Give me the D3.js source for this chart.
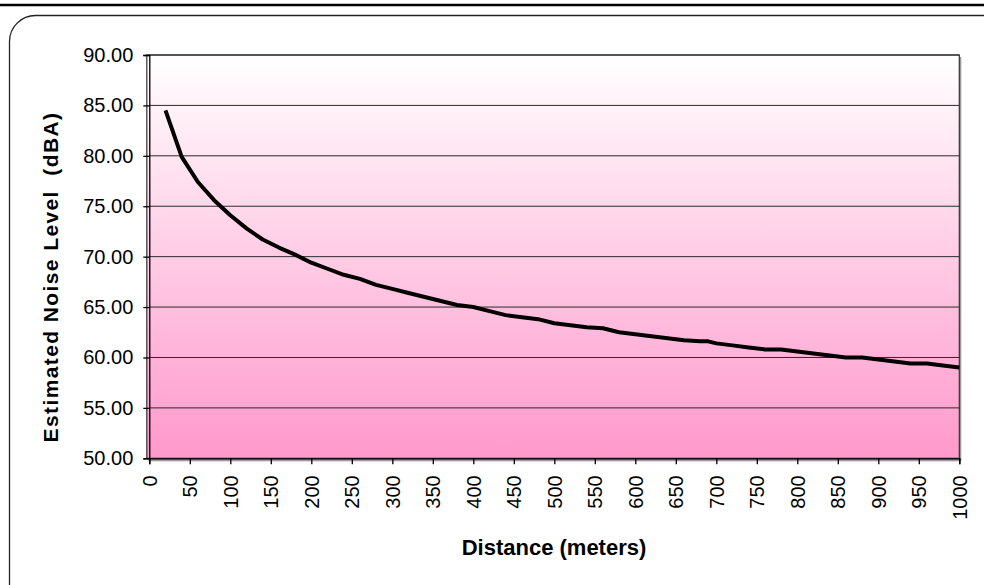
<!DOCTYPE html>
<html>
<head>
<meta charset="utf-8">
<script src="https://cdn.jsdelivr.net/npm/d3@7"></script>
<style>
  body { margin: 0; background: #fff; }
  text { font-family: "Liberation Sans", Arial, sans-serif; fill: #000; }
</style>
</head>
<body>
<div id="chart"></div>
<script>
// distances (m) and noise level
var distances = [20, 40, 60, 80, 100, 120, 140, 160, 180, 200,
                 220, 240, 260, 280, 300, 320, 340, 360, 380, 400,
                 420, 440, 460, 480, 500, 520, 540, 560, 580, 600,
                 620, 640, 660, 680, 690, 700, 720, 740, 760, 780,
                 800, 820, 840, 860, 880, 900, 920, 940, 960, 980, 1000];
var noise = [84.5, 79.9, 77.4, 75.6, 74.1, 72.8, 71.7, 70.9, 70.2, 69.4,
             68.8, 68.2, 67.8, 67.2, 66.8, 66.4, 66.0, 65.6, 65.2, 65.0,
             64.6, 64.2, 64.0, 63.8, 63.4, 63.2, 63.0, 62.9, 62.5, 62.3,
             62.1, 61.9, 61.7, 61.6, 61.6, 61.4, 61.2, 61.0, 60.8, 60.8,
             60.6, 60.4, 60.2, 60.0, 60.0, 59.8, 59.6, 59.4, 59.4, 59.2, 59.0];
var xTicks = d3.range(0, 1001, 50);
var yTicks = [50, 55, 60, 65, 70, 75, 80, 85, 90];

var W = 984, H = 585;
var plotL = 149.3, plotR = 959.3, plotT = 55, plotB = 458.3;

var svg = d3.select("#chart").append("svg")
    .attr("width", W)
    .attr("height", H);

var x = d3.scaleLinear().domain([0, 1000]).range([plotL, plotR]);
var y = d3.scaleLinear().domain([50, 90]).range([plotB, plotT]);

// frame
svg.append("line")
    .attr("x1", 0).attr("x2", W)
    .attr("y1", 5).attr("y2", 5)
    .attr("stroke", "#000").attr("stroke-width", 2.5);
svg.append("rect")
    .attr("x", 9.5).attr("y", 15.5)
    .attr("width", 1010).attr("height", 600)
    .attr("rx", 26).attr("ry", 26)
    .attr("fill", "none")
    .attr("stroke", "#222").attr("stroke-width", 1.3);

// plot area gradient
var grad = svg.append("defs").append("linearGradient")
    .attr("id", "bg").attr("x1", 0).attr("y1", 0).attr("x2", 0).attr("y2", 1);
grad.append("stop").attr("offset", "0%").attr("stop-color", "#ffffff");
grad.append("stop").attr("offset", "100%").attr("stop-color", "#ff99cc");

// shadow
svg.append("rect")
    .attr("x", plotL - 1).attr("y", plotT + 2)
    .attr("width", plotR - plotL + 3).attr("height", plotB - plotT + 1)
    .attr("fill", "#9a9a9a");
svg.append("rect")
    .attr("x", plotL - 2.5).attr("y", plotT)
    .attr("width", plotR - plotL + 2.5).attr("height", plotB - plotT)
    .attr("fill", "url(#bg)")
    .attr("stroke", "#333").attr("stroke-width", 1.2);

// gridlines
svg.append("g").selectAll("line")
    .data(yTicks.filter(function(d) { return d > 50; }))
    .enter().append("line")
    .attr("x1", plotL).attr("x2", plotR)
    .attr("y1", function(d) { return y(d); })
    .attr("y2", function(d) { return y(d); })
    .attr("stroke", "#2a2a2a").attr("stroke-width", 1);

// axes
var yAxis = svg.append("g")
    .attr("transform", "translate(" + plotL + ",0)")
    .call(d3.axisLeft(y).tickValues(yTicks).tickSize(6).tickPadding(10)
        .tickFormat(d3.format(".2f")));
yAxis.selectAll("text").style("font-size", "20px")
    .attr("font-family", "Liberation Sans, Arial, sans-serif");
yAxis.selectAll("line, path").attr("stroke", "#000").attr("stroke-width", 1.3);

var xAxis = svg.append("g")
    .attr("transform", "translate(0," + plotB + ")")
    .call(d3.axisBottom(x).tickValues(xTicks).tickSize(6).tickFormat(d3.format("d")));
xAxis.selectAll("line, path").attr("stroke", "#000").attr("stroke-width", 1.3);
xAxis.selectAll("text")
    .style("font-size", "20px")
    .attr("font-family", "Liberation Sans, Arial, sans-serif")
    .attr("text-anchor", "end")
    .attr("transform", "rotate(-90)")
    .attr("x", -17)
    .attr("y", 0)
    .attr("dy", "0.35em");

// the curve
var line = d3.line()
    .x(function(d, i) { return x(distances[i]); })
    .y(function(d) { return y(d); });
svg.append("path")
    .datum(noise)
    .attr("d", line)
    .attr("fill", "none")
    .attr("stroke", "#000")
    .attr("stroke-width", 4)
    .attr("stroke-linejoin", "round");

// titles
svg.append("text")
    .attr("transform", "translate(58,277) rotate(-90)")
    .attr("text-anchor", "middle")
    .style("font-size", "21px")
    .style("font-weight", "bold")
    .style("letter-spacing", "1.4px")
    .style("white-space", "pre")
    .text("Estimated Noise Level  (dBA)");
svg.append("text")
    .attr("x", 554).attr("y", 555)
    .attr("text-anchor", "middle")
    .style("font-size", "22px")
    .style("font-weight", "bold")
    .style("white-space", "pre")
    .text("Distance (meters)");
</script>
</body>
</html>
